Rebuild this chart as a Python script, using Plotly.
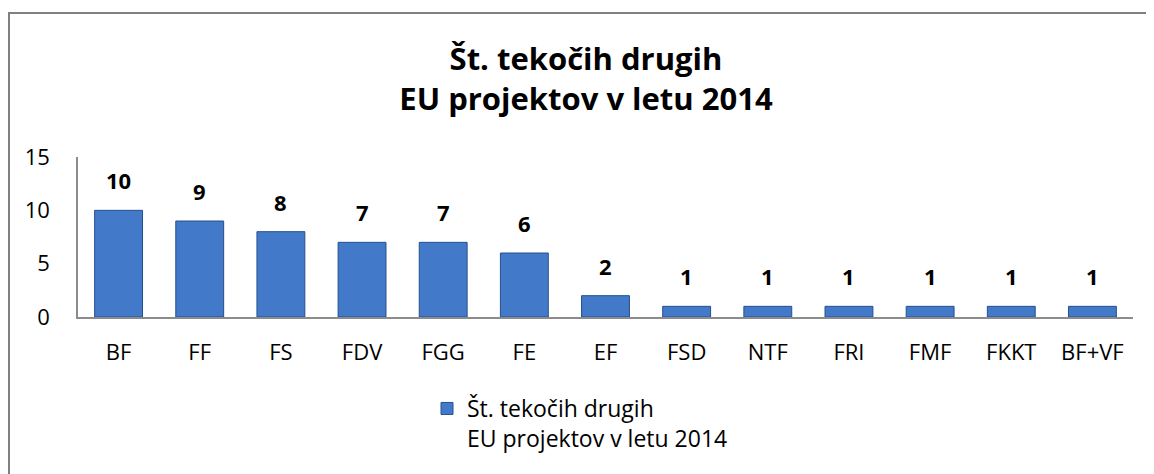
import plotly.graph_objects as go

categories = ["BF", "FF", "FS", "FDV", "FGG", "FE", "EF", "FSD", "NTF", "FRI", "FMF", "FKKT", "BF+VF"]
values = [10, 9, 8, 7, 7, 6, 2, 1, 1, 1, 1, 1, 1]
series_name = "Št. tekočih drugih<br>EU projektov v letu 2014"
title_text = "Št. tekočih drugih<br>EU projektov v letu 2014"
y_ticks = [0, 5, 10, 15]

FONT = "Open Sans"
W, H = 1146, 466
L, R, T, B = 70, 21, 149, 157
pw = W - L - R
ph = H - T - B
y0px = H - B  # pixel row of the x axis


def px_x(x):
    return (x - L) / pw


def px_y(y):
    return (y0px - y) / ph


fig = go.Figure()
fig.add_trace(go.Bar(
    x=categories, y=values, name=series_name,
    marker=dict(color="#4279C8", line=dict(color="#24508F", width=1)),
    showlegend=True,
))

annotations = []
for c, v in zip(categories, values):
    annotations.append(dict(x=c, y=v, xref="x", yref="y", text=f"<b>{v}</b>",
                            showarrow=False, yanchor="bottom", yshift=13,
                            font=dict(family=FONT, size=22, color="black")))

frame = dict(color="#808080", width=2)
fig.update_layout(
    width=W, height=H,
    margin=dict(l=L, r=R, t=T, b=B),
    paper_bgcolor="white", plot_bgcolor="white",
    bargap=0.41,
    title=dict(text=f"<b>{title_text}</b>", x=px_x(578), xref="paper", xanchor="center",
               y=1 - 62 / H, yanchor="top",
               font=dict(family=FONT, size=31, color="black")),
    xaxis=dict(showline=True, linecolor="#8C8C8C", linewidth=1.5, ticks="",
               showgrid=False, tickfont=dict(family=FONT, size=22, color="black"),
               ticklabelstandoff=15),
    yaxis=dict(range=[0, 15], tickvals=y_ticks, showline=True, linecolor="#8C8C8C",
               linewidth=1.5, ticks="", showgrid=False, zeroline=False,
               tickfont=dict(family=FONT, size=22, color="black"),
               ticklabelstandoff=22),
    legend=dict(x=px_x(419), y=px_y(379), xanchor="left", yanchor="top",
                valign="top", font=dict(family=FONT, size=23, color="black"),
                itemwidth=30),
    annotations=annotations,
    shapes=[
        dict(type="line", xref="paper", yref="paper",
             x0=px_x(1), x1=px_x(1), y0=px_y(H), y1=px_y(4), line=frame),
        dict(type="line", xref="paper", yref="paper",
             x0=px_x(0), x1=px_x(W), y0=px_y(5), y1=px_y(5), line=frame),
    ],
)

fig.write_html("out.html")
